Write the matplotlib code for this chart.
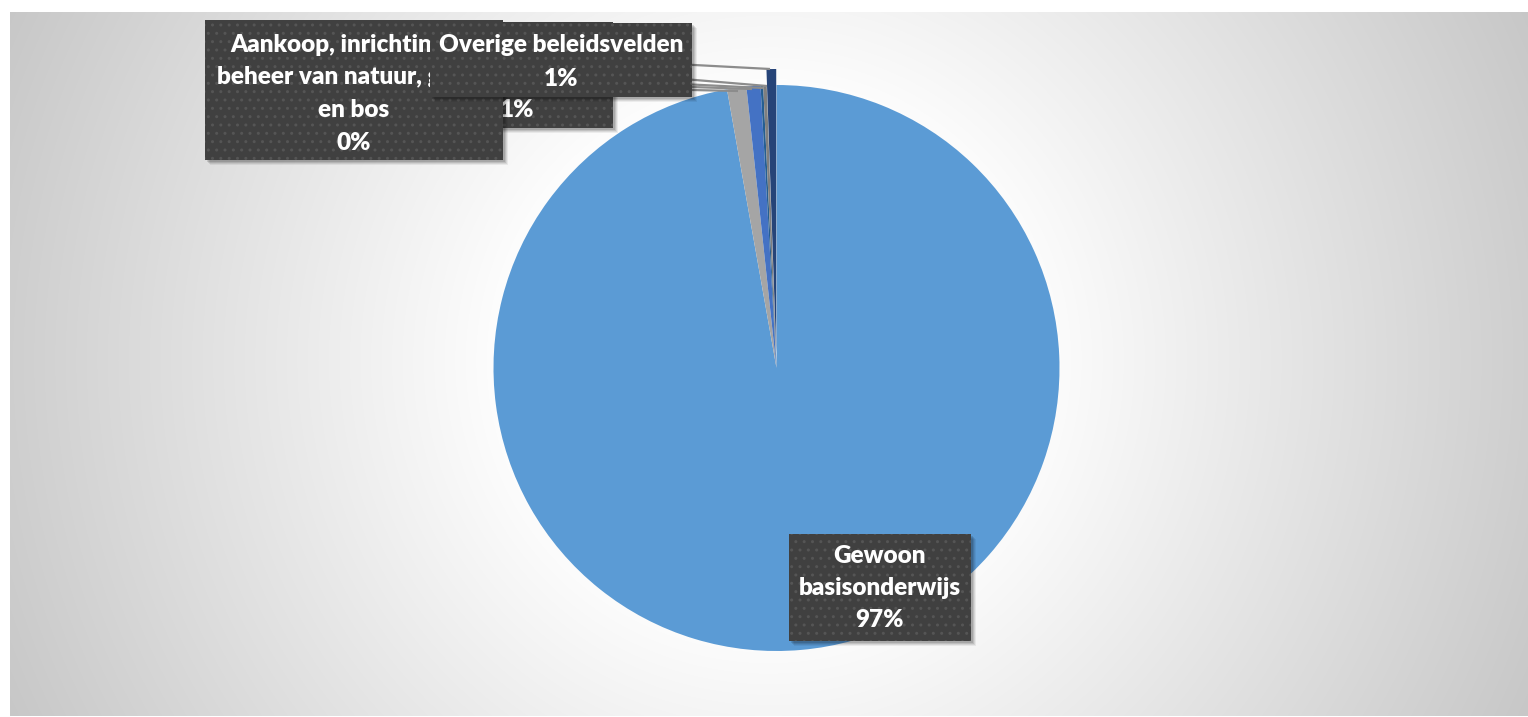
import numpy as np
import matplotlib
matplotlib.use("Agg")
import matplotlib.pyplot as plt
from matplotlib.patches import Rectangle

# ---- data ----
categories = ["Gewoon basisonderwijs", "Onderwijs (grijs)", "Overig (blauw)",
              "Aankoop, inrichting en beheer van natuur, groen en bos",
              "Overig (donkergrijs)", "Overige beleidsvelden"]
values = [97.2, 1.1, 0.8, 0.15, 0.2, 0.55]
colors = ["#5B9BD5", "#A5A5A5", "#4472C4", "#255E91", "#7F7F7F", "#264478"]
explode = [0, 0, 0, 0, 0, 16]
pct = [f"{v:.0f}%" for v in values]

W, H = 1528, 717
plt.rcParams['font.family'] = ['Lato', 'DejaVu Sans']
fig = plt.figure(figsize=(W / 100, H / 100), dpi=100)
fig.patch.set_facecolor("white")
ax = fig.add_axes([0, 0, 1, 1])
ax.set_xlim(0, W)
ax.set_ylim(0, H)
ax.axis("off")

def Y(y):
    return H - y

# background radial gradient (chart area)
x0, x1, y0, y1 = 10, W, 12, 716
gx, gy = np.meshgrid(np.arange(x0, x1), np.arange(y0, y1))
d = np.hypot(gx - 768, gy - 360)
t = np.clip((d - 250) / 600, 0, 1)
g = (255 - (255 - 198) * t) / 255
img = np.dstack([g, g, g])
ax.imshow(img, extent=(x0, x1, Y(y1), Y(y0)), origin="upper", zorder=0, aspect="auto")

# pie
cx, cy, r = 776.5, 368, 283
wedges, _ = ax.pie(values, colors=colors, startangle=90, counterclock=False,
                   center=(cx, Y(cy)), radius=r, explode=explode,
                   wedgeprops=dict(linewidth=0), frame=False)
for w in wedges:
    w.set_zorder(2)
ax.set_xlim(0, W)
ax.set_ylim(0, H)
ax.set_aspect("auto")

# leader lines
lines = [((600, 60), (770, 69)), ((600, 72), (767, 86)), ((600, 80), (763, 88)),
         ((600, 84), (752, 89)), ((600, 88), (738, 91))]
for (a, b) in lines:
    ax.plot([a[0], b[0]], [Y(a[1]), Y(b[1])], color="#8C8C8C", lw=1.6, zorder=3,
            solid_capstyle="butt")

def box(xl, yt, xr, yb, z):
    for k, al in [(5, 0.06), (4, 0.08), (3, 0.10), (2, 0.12)]:
        ax.add_patch(Rectangle((xl + k, Y(yb) - k), xr - xl, yb - yt,
                               facecolor="black", alpha=al, lw=0, zorder=z - 0.1))
    ax.add_patch(Rectangle((xl, Y(yb)), xr - xl, yb - yt, facecolor="#404040",
                           edgecolor="#555555", hatch="..", lw=0, zorder=z))

tkw = dict(color="white", fontsize=17.5, fontweight="heavy", ha="center", va="center")

# middle hidden label (grey slice)
box(421, 22, 613, 128, 5)
ax.text(517, Y(110), pct[1], zorder=5.5, **tkw)

# Aankoop label
box(205, 20, 503, 160, 6)
for i, s in enumerate(["Aankoop, inrichting en", "beheer van natuur, groen", "en bos", pct[3]]):
    ax.text(354, Y(45 + 32.5 * i), s, zorder=6.5, **tkw)

# Overige label
box(430, 23, 692, 97, 7)
ax.text(561, Y(45), categories[5], zorder=7.5, **tkw)
ax.text(561, Y(79), pct[5], zorder=7.5, **tkw)

# Gewoon basisonderwijs label
box(789, 534, 971, 641, 7)
for i, s in enumerate(["Gewoon", "basisonderwijs", pct[0]]):
    ax.text(880, Y(556 + 32 * i), s, zorder=7.5, **tkw)

fig.savefig("out.png", dpi=100, facecolor="white")
